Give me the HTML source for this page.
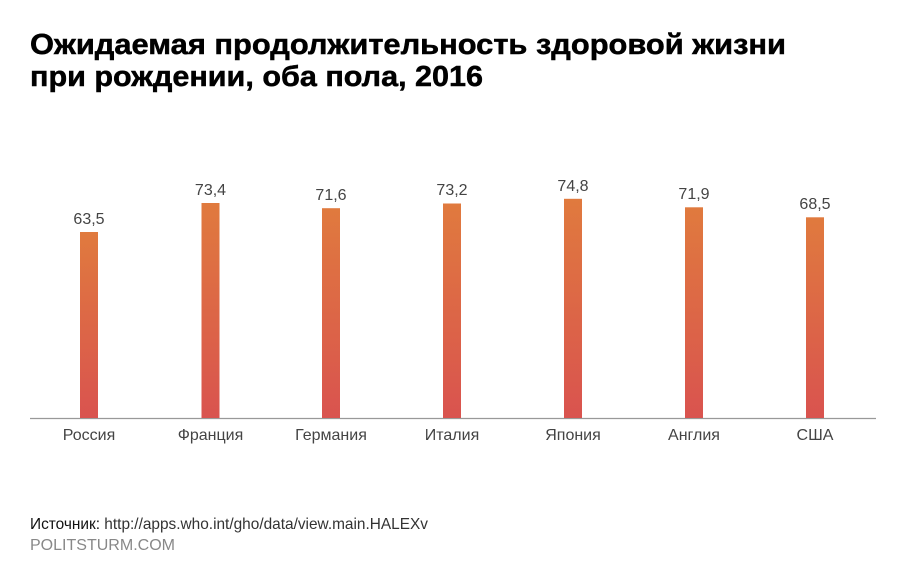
<!DOCTYPE html>
<html><head><meta charset="utf-8"><style>
html,body{margin:0;padding:0;background:#fff;}
svg{display:block;font-family:"Liberation Sans",sans-serif;}
</style></head><body>
<svg width="900" height="577" viewBox="0 0 900 577">
<defs><linearGradient id="g" x1="0" y1="0" x2="0" y2="1">
<stop offset="0" stop-color="#e07a3e"/><stop offset="1" stop-color="#d9534f"/></linearGradient></defs>
<rect width="900" height="577" fill="#fff"/>
<g font-size="29" font-weight="bold" fill="#000" stroke="#000" stroke-width="0.5">
<text x="30" y="54" textLength="756" lengthAdjust="spacingAndGlyphs">Ожидаемая продолжительность здоровой жизни</text>
<text x="30" y="86" textLength="453" lengthAdjust="spacingAndGlyphs">при рождении, оба пола, 2016</text>
</g>
<line x1="30" y1="418.5" x2="876" y2="418.5" stroke="#999" stroke-width="1.2"/>
<g fill="url(#g)">
<rect x="80" y="232" width="18" height="186"/>
<rect x="201.5" y="203" width="18" height="215"/>
<rect x="322" y="208.2" width="18" height="209.8"/>
<rect x="443" y="203.5" width="18" height="214.5"/>
<rect x="564" y="198.8" width="18" height="219.2"/>
<rect x="685" y="207.3" width="18" height="210.7"/>
<rect x="806" y="217.3" width="18" height="200.7"/>
</g>
<g font-size="16" fill="#444" text-anchor="middle">
<text x="89" y="224">63,5</text>
<text x="210.5" y="195">73,4</text>
<text x="331" y="200">71,6</text>
<text x="452" y="195">73,2</text>
<text x="573" y="191">74,8</text>
<text x="694" y="199">71,9</text>
<text x="815" y="209">68,5</text>
</g>
<g font-size="16" fill="#444" text-anchor="middle">
<text x="89" y="440">Россия</text>
<text x="210.5" y="440">Франция</text>
<text x="331" y="440">Германия</text>
<text x="452" y="440">Италия</text>
<text x="573" y="440">Япония</text>
<text x="694" y="440">Англия</text>
<text x="815" y="440">США</text>
</g>
<text x="30" y="529" font-size="16" fill="#333" textLength="398" lengthAdjust="spacingAndGlyphs"><tspan fill="#111">Источник:</tspan> http://apps.who.int/gho/data/view.main.HALEXv</text>
<text x="30" y="550" font-size="16" fill="#888" textLength="145" lengthAdjust="spacingAndGlyphs">POLITSTURM.COM</text>
</svg>
</body></html>
